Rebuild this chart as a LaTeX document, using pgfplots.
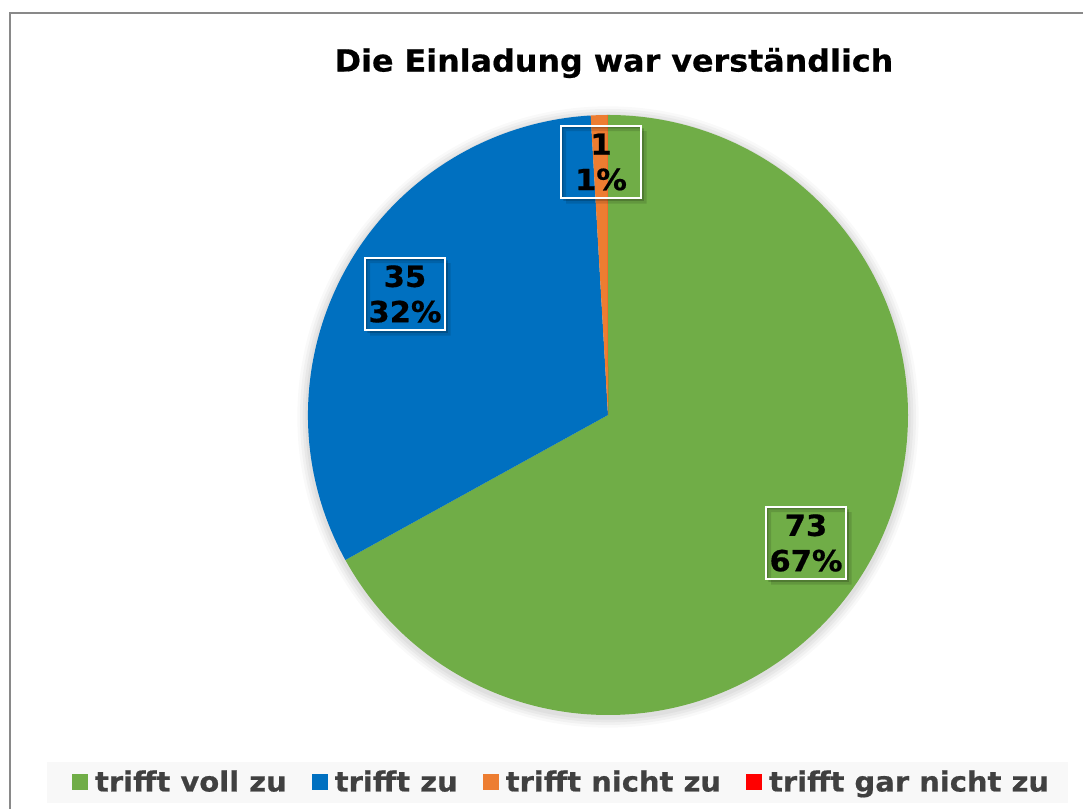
\documentclass[border=0pt]{standalone}
\usepackage{fontspec}
\setmainfont{DejaVu Sans}
\newfontfamily\vfont{DejaVu Sans}[FakeStretch=1.05, BoldFeatures={FakeBold=0.6}]
\newfontfamily\tfont{DejaVu Sans}[FakeStretch=1.04, BoldFeatures={FakeBold=0.6}]
\usepackage{pgfplots}
\usepackage{pgfplotstable}
\pgfplotsset{compat=1.18}

\definecolor{cgreen}{HTML}{70AD47}
\definecolor{cblue}{HTML}{0070C0}
\definecolor{corange}{HTML}{ED7D31}
\definecolor{cred}{HTML}{FF0000}
\definecolor{legtext}{HTML}{404040}
\definecolor{legbg}{HTML}{F8F8F8}
\definecolor{framec}{HTML}{898989}

\pgfplotstableread{
value
73
35
1
0
}\pietable

\newcommand\labelbox[3]{%
  \node[minimum width=60pt, minimum height=54pt, inner sep=0pt] (lb) at (axis cs:#1,#2) {};
  \fill[black,opacity=0.12,even odd rule]
    ([shift={(4pt,-4pt)}]lb.south west) rectangle ([shift={(4pt,-4pt)}]lb.north east)
    (lb.south west) rectangle (lb.north east);
  \fill[black,opacity=0.18,even odd rule]
    ([shift={(2pt,-2pt)}]lb.south west) rectangle ([shift={(2pt,-2pt)}]lb.north east)
    (lb.south west) rectangle (lb.north east);
  \node[draw=white, line width=1.1pt, minimum width=60pt, minimum height=54pt,
        inner sep=0pt, align=center, text=black,
        font=\vfont\bfseries\fontsize{21.8}{26.5}\selectfont] at (axis cs:#1,#2) {#3};
}

\begin{document}
\begin{tikzpicture}
\pgfplotstablegetelem{0}{value}\of\pietable \edef\va{\pgfplotsretval}
\pgfplotstablegetelem{1}{value}\of\pietable \edef\vb{\pgfplotsretval}
\pgfplotstablegetelem{2}{value}\of\pietable \edef\vc{\pgfplotsretval}
\pgfplotstablegetelem{3}{value}\of\pietable \edef\vd{\pgfplotsretval}
\pgfmathsetmacro\tot{\va+\vb+\vc+\vd}
\pgfmathsetmacro\aA{90}
\pgfmathsetmacro\aB{90-360*(\va/\tot)}
\pgfmathsetmacro\aC{\aB-360*(\vb/\tot)}
\pgfmathsetmacro\aD{\aC-360*(\vc/\tot)}
\pgfmathsetmacro\aE{\aD-360*(\vd/\tot)}
\begin{axis}[
  scale only axis, width=812.25pt, height=606.75pt,
  xmin=0, xmax=1083, ymin=0, ymax=809,
  hide axis, clip=false,
  legend style={at={(axis cs:562,27)}, anchor=center, draw=none, fill=none,
    legend columns=4, font=\vfont\bfseries\fontsize{20.7}{22}\selectfont,
    text=legtext, inner sep=0pt,
    /tikz/every odd column/.append style={column sep=3pt},
    /tikz/every even column/.append style={column sep=17pt}},
  legend cell align=left,
  legend image code/.code={\fill[#1] (0pt,-6pt) rectangle (12pt,6pt);},
]
% frame
\draw[framec, line width=1.2pt] (axis cs:10,0) -- (axis cs:10,796) -- (axis cs:1085,796);
% title
\node[font=\tfont\bfseries\fontsize{22.9}{26}\selectfont, text=black] at (axis cs:614,746) {Die Einladung war verständlich};
% soft shadow of the pie
\fill[black,opacity=0.025] (axis cs:608,392) circle[radius=233pt];
\fill[black,opacity=0.03] (axis cs:608,392) circle[radius=231pt];
\fill[black,opacity=0.035] (axis cs:608,392) circle[radius=229pt];
\fill[black,opacity=0.04] (axis cs:608,392) circle[radius=227pt];
% slices
\fill[cgreen] (axis cs:608,394) -- ++(\aA:225pt) arc[start angle=\aA, end angle=\aB, radius=225pt] -- cycle;
\fill[cblue] (axis cs:608,394) -- ++(\aB:225pt) arc[start angle=\aB, end angle=\aC, radius=225pt] -- cycle;
\fill[corange] (axis cs:608,394) -- ++(\aC:225pt) arc[start angle=\aC, end angle=\aD, radius=225pt] -- cycle;
\fill[cred] (axis cs:608,394) -- ++(\aD:225pt) arc[start angle=\aD, end angle=\aE, radius=225pt] -- cycle;
% data labels
\labelbox{806}{266}{73\\67\%}
\labelbox{405}{515}{35\\32\%}
\labelbox{601}{647}{1\\1\%}
% legend
\fill[legbg] (axis cs:47,6) rectangle (axis cs:1068,47);
\addlegendimage{fill=cgreen, draw=none}
\addlegendentry{trifft voll zu}
\addlegendimage{fill=cblue, draw=none}
\addlegendentry{trifft zu}
\addlegendimage{fill=corange, draw=none}
\addlegendentry{trifft nicht zu}
\addlegendimage{fill=cred, draw=none}
\addlegendentry{trifft gar nicht zu}
\end{axis}
\pgfresetboundingbox
\path (0,0) rectangle (812.25pt,606.75pt);
\end{tikzpicture}
\end{document}
